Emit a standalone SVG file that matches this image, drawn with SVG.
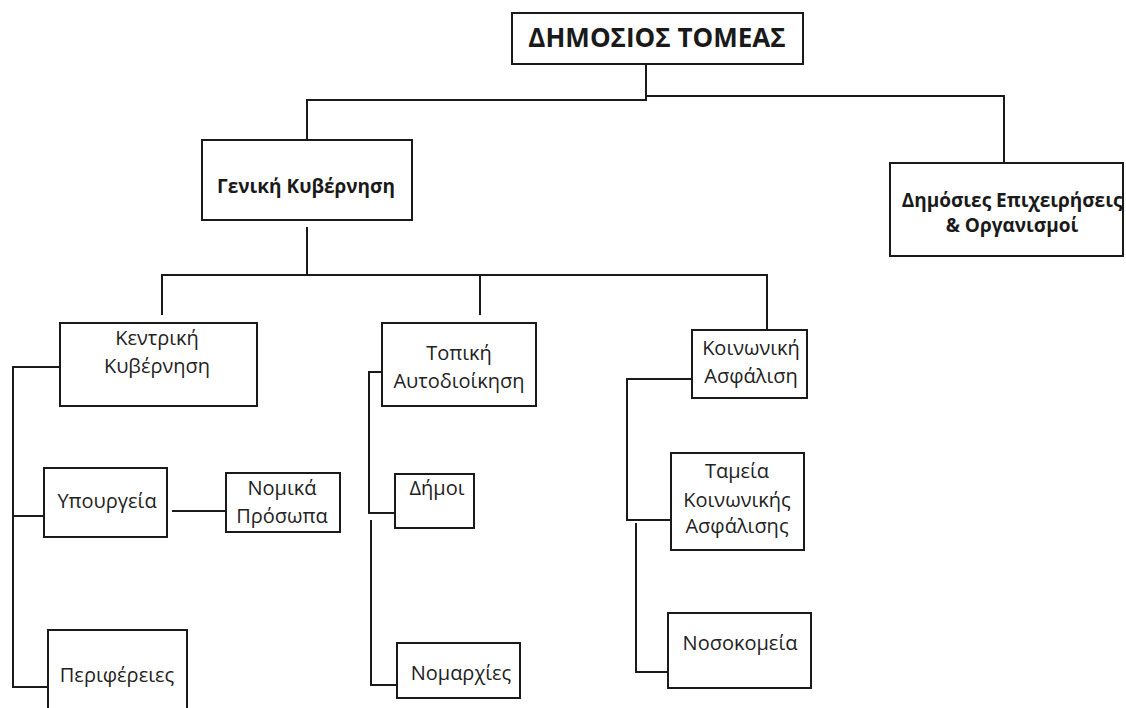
<svg xmlns="http://www.w3.org/2000/svg" width="1126" height="708" viewBox="0 0 1126 708">
<style>
.box{fill:#fff;stroke:#1a1a1a;stroke-width:2}
.ln{fill:none;stroke:#1a1a1a;stroke-width:2}
.t{font-family:"Open Sans","Noto Sans","DejaVu Sans",sans-serif;font-size:20px;fill:#222;text-anchor:middle}
.b{font-weight:bold;fill:#1a1a1a}
</style>
<rect width="1126" height="708" fill="#fff"/>
<g id="connectors">
<polyline class="ln" points="646,64 646,100 307,100 307,140"/>
<polyline class="ln" points="646,96 1004,96 1004,163"/>
<polyline class="ln" points="307,227 307,275"/>
<polyline class="ln" points="162,315 162,275 767,275 767,330"/>
<polyline class="ln" points="480,275 480,315"/>
<polyline class="ln" points="60,367 13,367 13,687 48,687"/>
<polyline class="ln" points="13,516 43,516"/>
<polyline class="ln" points="172,511 226,511"/>
<polyline class="ln" points="382,372 369,372 369,513 395,513"/>
<polyline class="ln" points="371,520 371,685 397,685"/>
<polyline class="ln" points="692,379 627,379 627,520 670,520"/>
<polyline class="ln" points="636,523 636,672 668,672"/>
</g>
<g id="n-dimosios">
<rect class="box" x="512" y="13" width="291" height="51"/>
<text class="t b" x="657" y="47" style="font-size:26px">ΔΗΜΟΣΙΟΣ ΤΟΜΕΑΣ</text>
</g>
<g id="n-geniki">
<rect class="box" x="202" y="140" width="210" height="80"/>
<text class="t b" x="306" y="193" style="font-size:19px">Γενική Κυβέρνηση</text>
</g>
<g id="n-epixeiriseis">
<rect class="box" x="890" y="163" width="233" height="93"/>
<text class="t b" x="1012" y="207" style="font-size:19px">Δημόσιες Επιχειρήσεις</text>
<text class="t b" x="1012" y="232" style="font-size:19px">&amp; Οργανισμοί</text>
</g>
<g id="n-kentriki">
<rect class="box" x="60" y="323" width="197" height="83"/>
<text class="t" x="157" y="345">Κεντρική</text>
<text class="t" x="157" y="373">Κυβέρνηση</text>
</g>
<g id="n-topiki">
<rect class="box" x="382" y="323" width="154" height="83"/>
<text class="t" x="459" y="360">Τοπική</text>
<text class="t" x="459" y="388">Αυτοδιοίκηση</text>
</g>
<g id="n-koinoniki">
<rect class="box" x="692" y="330" width="115" height="68"/>
<text class="t" x="751" y="355">Κοινωνική</text>
<text class="t" x="751" y="383">Ασφάλιση</text>
</g>
<g id="n-ypourgeia">
<rect class="box" x="44" y="468" width="123" height="69"/>
<text class="t" x="107" y="508">Υπουργεία</text>
</g>
<g id="n-nomika">
<rect class="box" x="226" y="473" width="114" height="59"/>
<text class="t" x="282" y="495">Νομικά</text>
<text class="t" x="282" y="523">Πρόσωπα</text>
</g>
<g id="n-perifereies">
<rect class="box" x="48" y="630" width="139" height="90"/>
<text class="t" x="117" y="682">Περιφέρειες</text>
</g>
<g id="n-dimoi">
<rect class="box" x="395" y="474" width="79" height="54"/>
<text class="t" x="437" y="495">Δήμοι</text>
</g>
<g id="n-nomarxies">
<rect class="box" x="397" y="643" width="123" height="55"/>
<text class="t" x="461" y="680">Νομαρχίες</text>
</g>
<g id="n-tameia">
<rect class="box" x="671" y="453" width="133" height="97"/>
<text class="t" x="737" y="478">Ταμεία</text>
<text class="t" x="737" y="507">Κοινωνικής</text>
<text class="t" x="737" y="533">Ασφάλισης</text>
</g>
<g id="n-nosokomeia">
<rect class="box" x="668" y="613" width="143" height="75"/>
<text class="t" x="740" y="650">Νοσοκομεία</text>
</g>
</svg>
